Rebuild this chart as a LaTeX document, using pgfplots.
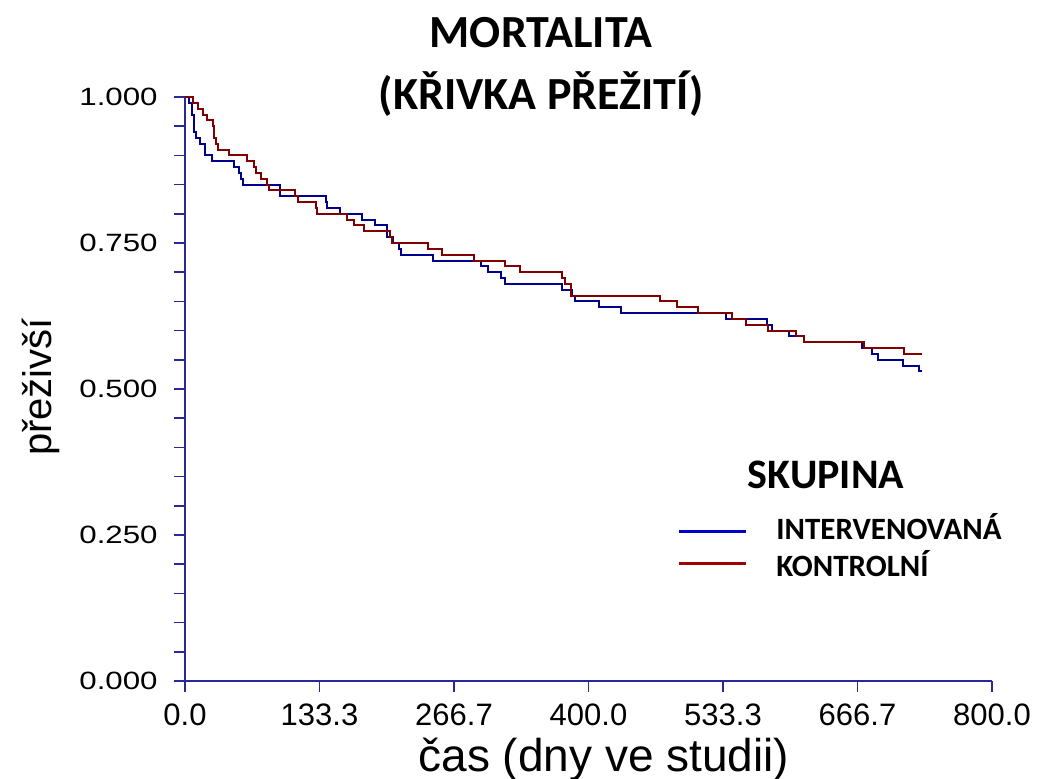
\documentclass[border=0pt]{standalone}
\usepackage{graphicx}
\usepackage{pgfplots}
\pgfplotsset{compat=1.18}
\usepackage{fontspec}
\setmainfont{Liberation Sans}
\newfontfamily\carlito{Carlito}
\definecolor{axiscol}{RGB}{40,40,150}
\definecolor{curveblue}{RGB}{0,0,140}
\definecolor{curvered}{RGB}{128,0,0}
\definecolor{legblue}{RGB}{0,0,205}
\definecolor{legred}{RGB}{160,0,0}
\begin{document}
\begin{tikzpicture}
\path[use as bounding box] (-92.5pt,-48.5pt) rectangle (426.5pt,340.5pt);
\begin{axis}[
  scale only axis,
  width=403.5pt, height=292pt,
  xmin=0, xmax=800, ymin=0, ymax=1,
  clip=false,
  axis lines*=left,
  axis line style={draw=axiscol, line width=0.8pt},
  every tick/.style={draw=axiscol, line width=0.8pt},
  tick align=outside,
  major tick length=5.5pt, minor tick length=5.5pt,
  xtick={0,133.3333,266.6667,400,533.3333,666.6667,800},
  ytick={0,0.25,0.5,0.75,1},
  minor y tick num=4,
  /pgf/number format/assume math mode=true,
  xticklabel style={font=\fontsize{15.5}{18}\selectfont, inner sep=0pt, yshift=-5.5pt},
  xticklabel={\pgfmathprintnumber[fixed, fixed zerofill, precision=1]{\tick}},
  yticklabel style={font=\fontsize{12.5}{15}\selectfont, inner sep=0pt, xshift=-8pt},
  yticklabel={\scalebox{1.25}[1]{\pgfmathprintnumber[fixed, fixed zerofill, precision=3]{\tick}}},
  legend style={at={(0.6022,0.2868)}, anchor=north west, draw=none, fill=none,
    font=\carlito\bfseries\fontsize{15.5}{18}\selectfont,
    nodes={inner sep=0pt, text height=11pt, text depth=0pt},
    row sep=7.5pt, column sep=14.5pt},
  legend cell align=left,
  legend image code/.code={\path (0pt,0pt); \draw[#1] (0pt,0pt) -- (33.5pt,0pt);},
]
\addplot[const plot, curveblue, line width=1pt, forget plot] coordinates {
(0,1.00) (3.7,0.99) (6.6,0.97) (9.4,0.94) (10.9,0.93) (14.4,0.92) (20.3,0.90) (27.1,0.89) (48.1,0.88) (53.5,0.87) (55.5,0.86) (57.8,0.85) (94.5,0.83) (139.5,0.82) (141.1,0.81) (153.7,0.80) (175.2,0.79) (188.4,0.78) (200.5,0.76) (206.5,0.75) (212.1,0.74) (213.8,0.73) (245.6,0.72) (293.1,0.71) (300.1,0.70) (313.0,0.69) (317.2,0.68) (373.4,0.67) (383.3,0.66) (386.6,0.65) (410.4,0.64) (431.9,0.63) (536.0,0.62) (576.7,0.61) (581.6,0.60) (598.8,0.59) (613.9,0.58) (670.8,0.57) (680.7,0.56) (686.7,0.55) (711.5,0.54) (727.6,0.53) (730.6,0.53)
};
\addplot[const plot, curvered, line width=1pt, forget plot] coordinates {
(0,1.00) (8.2,0.99) (13.2,0.98) (18.1,0.97) (21.5,0.96) (27.5,0.95) (29.0,0.93) (30.7,0.92) (33.0,0.91) (43.6,0.90) (61.5,0.89) (68.4,0.88) (70.4,0.87) (75.3,0.86) (81.3,0.85) (83.0,0.84) (109.0,0.83) (112.3,0.82) (129.6,0.81) (131.2,0.80) (160.9,0.79) (167.8,0.78) (177.4,0.77) (203.6,0.76) (204.9,0.75) (241.2,0.74) (254.5,0.73) (286.2,0.72) (317.2,0.71) (332.1,0.70) (373.4,0.69) (376.4,0.68) (382.4,0.66) (470.9,0.65) (487.4,0.64) (508.2,0.63) (542.0,0.62) (555.8,0.61) (577.6,0.60) (605.4,0.59) (613.9,0.58) (673.4,0.57) (712.8,0.56) (730.9,0.56)
};
\addlegendimage{legblue, line width=1.5pt, yshift=-1.35pt}
\addlegendentry{INTERVENOVANÁ}
\addlegendimage{legred, line width=1.5pt, yshift=1.15pt}
\addlegendentry{KONTROLNÍ}
\end{axis}
\node[anchor=base, font=\carlito\bfseries\fontsize{23}{27}\selectfont] at (178pt,316.5pt) {MORTALITA};
\node[anchor=base, font=\carlito\bfseries\fontsize{23}{27}\selectfont] at (178pt,285.5pt) {(KŘIVKA PŘEŽITÍ)};
\node[anchor=base, font=\carlito\bfseries\fontsize{21}{25}\selectfont] at (320.5pt,96.5pt) {SKUPINA};
\node[anchor=base, font=\fontsize{23}{27}\selectfont] at (209.5pt,-45pt) {čas (dny ve studii)};
\node[anchor=base, rotate=90, font=\fontsize{20}{24}\selectfont] at (-66.5pt,147pt) {přeživší};
\end{tikzpicture}
\end{document}
